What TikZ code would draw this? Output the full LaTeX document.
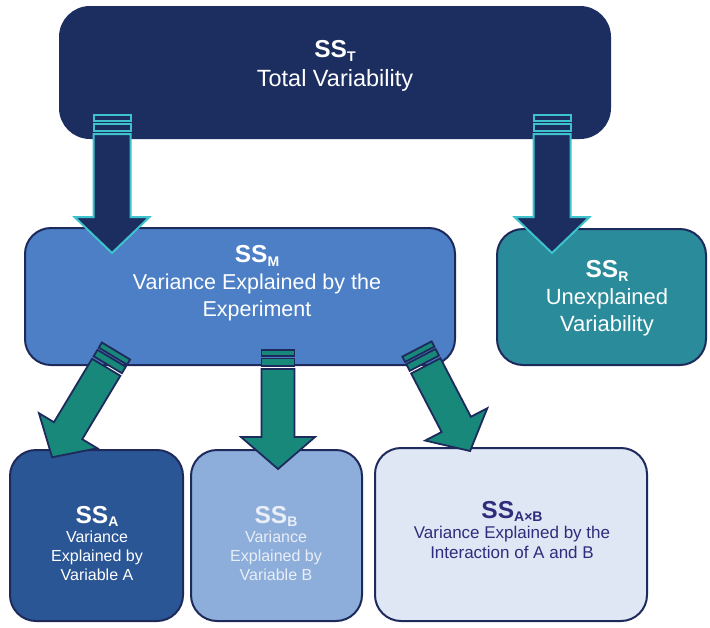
\documentclass[tikz,border=0pt]{standalone}
\usepackage{fontspec}
\setmainfont{Liberation Sans}
\definecolor{navy}{HTML}{1C2E60}
\definecolor{navyline}{HTML}{1E2A5C}
\definecolor{cyanline}{HTML}{3EC3CC}
\definecolor{mblue}{HTML}{4C7FC6}
\definecolor{rteal}{HTML}{2A8B9B}
\definecolor{ablue}{HTML}{2B5695}
\definecolor{bblue}{HTML}{8DAEDA}
\definecolor{abpale}{HTML}{DEE7F3}
\definecolor{agreen}{HTML}{17887A}
\definecolor{abtext}{HTML}{2E2C7C}
\definecolor{btext}{HTML}{E9EEF7}
\newcommand\ssub[1]{\raisebox{-0.35ex}{\fontsize{14}{14}\selectfont\bfseries #1}}
\newcommand\bigss{{\fontsize{24.5}{24.5}\selectfont\bfseries SS}}
% #1 fill, #2 draw, #3 length, #4 shaft half width, #5 head half width, #6 head length
\newcommand\blockarrow[6]{%
  \path[fill=#1,draw=#2] (-#4,0) rectangle (#4,6);
  \path[fill=#1,draw=#2] (-#4,8.5) rectangle (#4,16);
  \path[fill=#1,draw=#2,line join=miter] (-#4,19) -- (-#4,{#3-#6}) -- (-#5,{#3-#6}) -- (0,#3)
     -- (#5,{#3-#6}) -- (#4,{#3-#6}) -- (#4,19) -- cycle;
}
\begin{document}
\begin{tikzpicture}[x=1pt,y=-1pt,
  box/.style={rectangle, rounded corners=26pt, draw=navyline, line width=2pt, inner sep=0pt},
  txt/.style={align=center, inner sep=0pt},
  toparrow/.style={line width=2pt},
  grarrow/.style={line width=1.8pt}]
\useasboundingbox (0,0) rectangle (710,627);
\fill[white] (0,0) rectangle (710,627);
% boxes
\node[box, draw=navy, fill=navy, rounded corners=30pt, minimum width=550pt, minimum height=131pt] (T) at (335,72.5) {};
\node[box, fill=mblue, minimum width=430pt, minimum height=137pt] (M) at (240,296.5) {};
\node[box, fill=rteal, minimum width=209pt, minimum height=136pt] (R) at (601.5,297) {};
\node[box, fill=ablue, minimum width=173pt, minimum height=171pt] (A) at (96.5,535.5) {};
\node[box, fill=bblue, minimum width=171pt, minimum height=171pt] (B) at (276.5,535.5) {};
\node[box, fill=abpale, minimum width=272pt, minimum height=173pt] (AB) at (511,534.5) {};
% texts
\node[txt, text=white, font=\fontsize{23.5}{29}\selectfont] (Tt) at (335,66) {\bigss\ssub{T}\\Total Variability};
\node[txt, text=white, font=\fontsize{21.5}{27}\selectfont] (Mt) at (257,283) {\bigss\ssub{M}\\Variance Explained by the\\Experiment};
\node[txt, text=white, font=\fontsize{22}{27}\selectfont] (Rt) at (607,298) {\bigss\ssub{R}\\Unexplained\\Variability};
\node[txt, text=white, font=\fontsize{16}{19}\selectfont] (At) at (97,544) {\bigss\ssub{A}\\Variance\\Explained by\\Variable A};
\node[txt, text=btext, font=\fontsize{16}{19}\selectfont] (Bt) at (276,544) {\bigss\ssub{B}\\Variance\\Explained by\\Variable B};
\node[txt, text=abtext, font=\fontsize{17}{20}\selectfont] (ABt) at (512,530) {\bigss\ssub{A×B}\\Variance Explained by the\\Interaction of A and B};
% arrow tails
\coordinate (t1) at (112,115);
\coordinate (t2) at (552,115);
\coordinate (g1) at (116,351);
\coordinate (g2) at (278,350);
\coordinate (g3) at (417,349);
% arrows from total variability
\begin{scope}[shift={(t1)}, toparrow]
  \blockarrow{navy}{cyanline}{138}{18.5}{37.5}{36}
\end{scope}
\begin{scope}[shift={(t2)}, toparrow]
  \blockarrow{navy}{cyanline}{138}{18.5}{37.5}{36}
\end{scope}
% arrows from model
\begin{scope}[shift={(g1)}, rotate=-31, grarrow]
  \blockarrow{agreen}{navyline}{124}{16.5}{34}{31}
\end{scope}
\begin{scope}[shift={(g2)}, grarrow]
  \blockarrow{agreen}{navyline}{119}{16.5}{37}{32}
\end{scope}
\begin{scope}[shift={(g3)}, rotate=27.5, grarrow]
  \blockarrow{agreen}{navyline}{115}{16.5}{35}{30}
\end{scope}
\end{tikzpicture}
\end{document}
